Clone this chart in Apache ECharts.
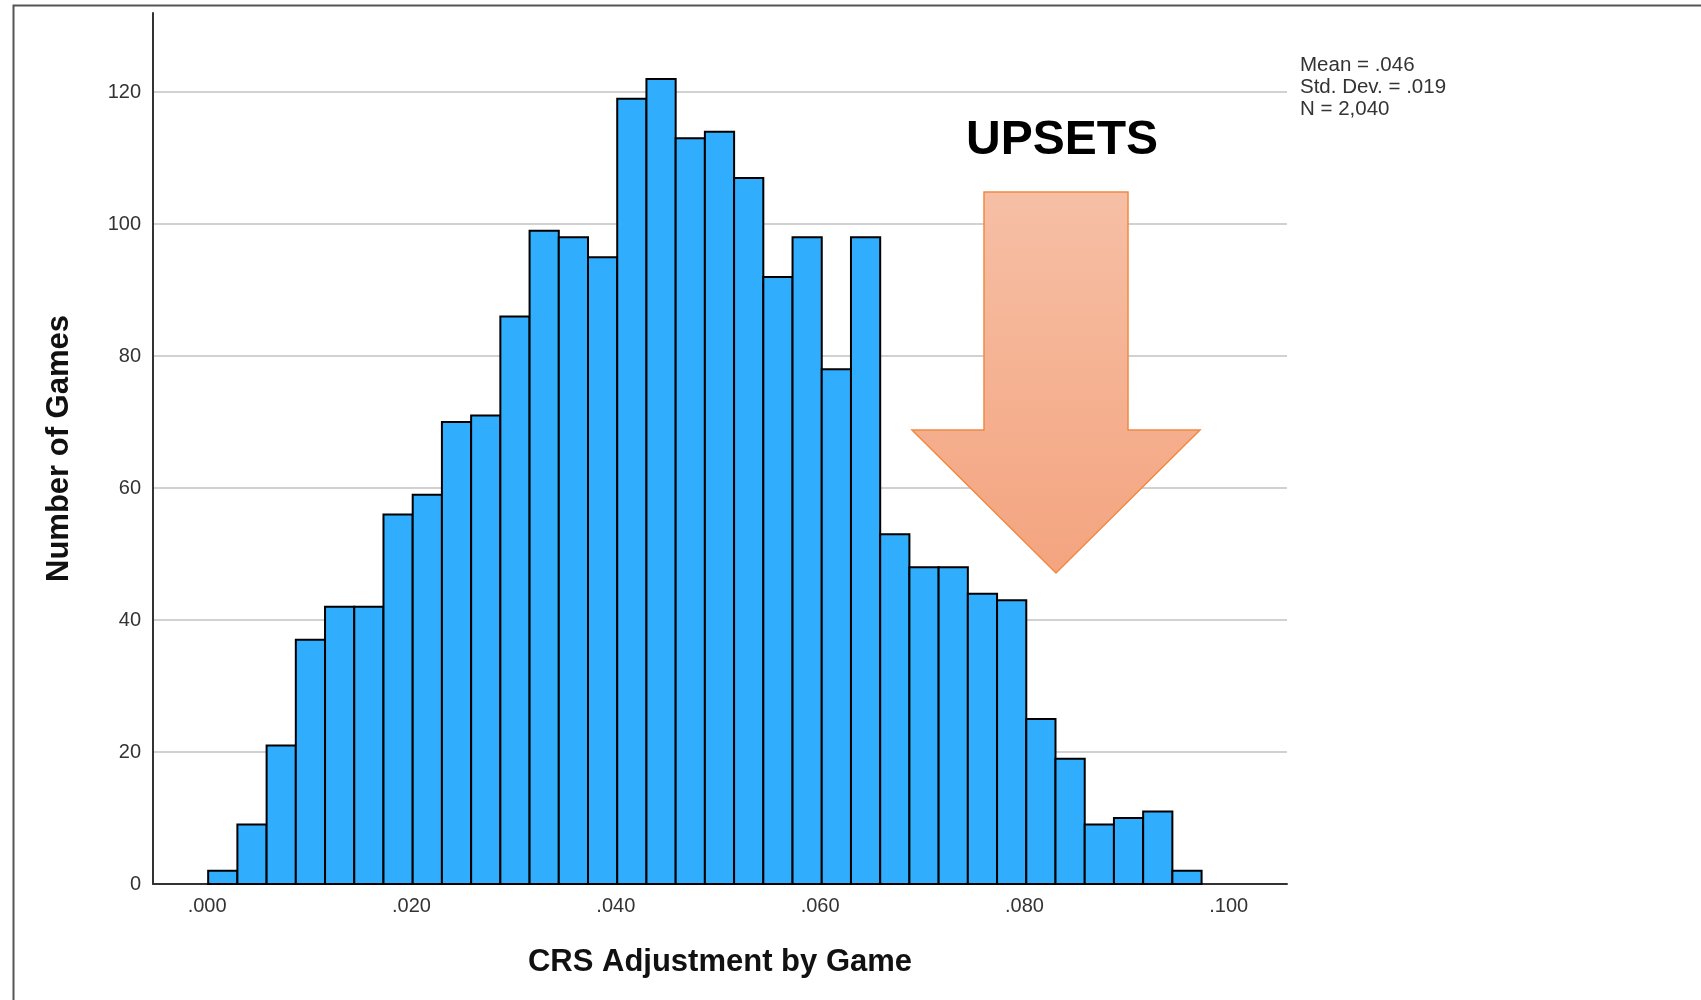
<!DOCTYPE html>
<html>
<head>
<meta charset="utf-8">
<script src="https://cdn.jsdelivr.net/npm/echarts@6/dist/echarts.min.js"></script>
<style>
  html, body { margin: 0; padding: 0; background: #fff; }
  #chart { width: 1701px; height: 1000px; }
</style>
</head>
<body>
<div id="chart"></div>
<script>
// histogram bins (CRS adjustment per game)
const binStart = 0.0001;
const binWidth = 0.00286;
const counts = [2, 9, 21, 37, 42, 42, 56, 59, 70, 71, 86, 99, 98, 95, 119, 122, 113, 114,
  107, 92, 98, 78, 98, 53, 48, 48, 44, 43, 25, 19, 9, 10, 11, 2];
const xTicks = [0, 0.02, 0.04, 0.06, 0.08, 0.1];
const yTicks = [0, 20, 40, 60, 80, 100, 120];
const statLines = ['Mean = .046', 'Std. Dev. = .019', 'N = 2,040'];

const FONT = '"Liberation Sans", Arial, sans-serif';
const barColor = '#31adfd';

const binData = counts.map((c, i) => [binStart + i * binWidth, binStart + (i + 1) * binWidth, c]);

const myChart = echarts.init(document.getElementById('chart'));

const option = {
  backgroundColor: '#fff',
  animation: false,
  grid: {
    left: 153,
    right: 414,
    top: 13,
    bottom: 116
  },
  xAxis: {
    type: 'value',
    min: -0.0053,
    max: 0.1057,
    name: 'CRS Adjustment by Game',
    nameLocation: 'middle',
    nameGap: 63,
    nameTextStyle: { fontFamily: FONT, fontSize: 31, fontWeight: 'bold', color: '#111' },
    axisLine: { show: true, onZero: false, lineStyle: { color: '#333', width: 2 } },
    axisTick: { show: false, customValues: xTicks },
    axisLabel: {
      customValues: xTicks,
      margin: 12,
      fontFamily: FONT,
      fontSize: 20,
      color: '#333',
      formatter: v => v.toFixed(3).replace(/^0/, '')
    },
    splitLine: { show: false }
  },
  yAxis: {
    type: 'value',
    min: 0,
    max: 132,
    name: 'Number of Games',
    nameLocation: 'middle',
    nameGap: 78,
    nameTextStyle: { fontFamily: FONT, fontSize: 31, fontWeight: 'bold', color: '#111' },
    axisLine: { show: true, onZero: false, lineStyle: { color: '#333', width: 2 } },
    axisTick: { show: false, customValues: yTicks },
    axisLabel: {
      customValues: yTicks,
      margin: 12,
      fontFamily: FONT,
      fontSize: 20,
      color: '#333'
    },
    splitLine: { show: true, lineStyle: { color: '#c2c2c2', width: 1.5 } }
  },
  series: [
    {
      type: 'custom',
      data: binData,
      encode: { x: [0, 1], y: 2 },
      renderItem: function (params, api) {
        const p0 = api.coord([api.value(0), 0]);
        const p1 = api.coord([api.value(1), api.value(2)]);
        return {
          type: 'rect',
          shape: { x: p0[0], y: p1[1], width: p1[0] - p0[0], height: p0[1] - p1[1] },
          style: { fill: barColor, stroke: '#000', lineWidth: 2 }
        };
      },
      z: 3
    }
  ],
  graphic: [
    // outer frame
    {
      type: 'rect',
      shape: { x: 13.5, y: 5.5, width: 1800, height: 1100 },
      style: { fill: null, stroke: '#555', lineWidth: 2 },
      silent: true
    },
    // UPSETS arrow
    {
      type: 'polygon',
      z: 10,
      shape: {
        points: [[984, 192], [1128, 192], [1128, 430], [1200, 430], [1056, 573], [912, 430], [984, 430]]
      },
      style: {
        fill: new echarts.graphic.LinearGradient(0, 0, 0, 1, [
          { offset: 0, color: '#f6bfa5' },
          { offset: 1, color: '#f4a47f' }
        ]),
        stroke: '#f08a45',
        lineWidth: 1.5
      }
    },
    {
      type: 'text',
      z: 10,
      x: 1062,
      y: 141,
      style: {
        text: 'UPSETS',
        fontFamily: FONT,
        fontSize: 48,
        fontWeight: 'bold',
        fill: '#000',
        align: 'center',
        verticalAlign: 'middle'
      }
    },
    {
      type: 'text',
      z: 10,
      x: 1300,
      y: 54,
      style: {
        text: statLines.join('\n'),
        fontFamily: FONT,
        fontSize: 20.5,
        lineHeight: 22,
        fill: '#333',
        align: 'left',
        verticalAlign: 'top'
      }
    }
  ]
};

myChart.setOption(option);
</script>
</body>
</html>
